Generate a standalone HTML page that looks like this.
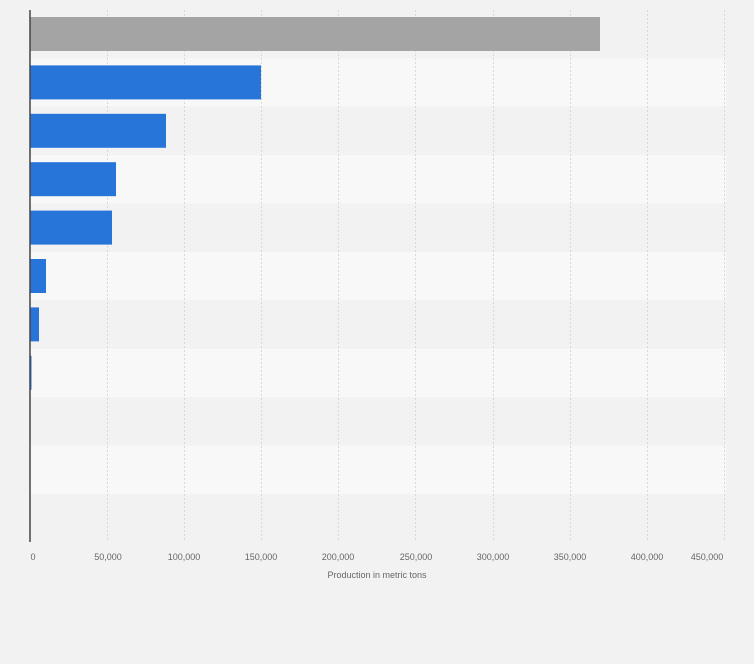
<!DOCTYPE html>
<html><head><style>
body{margin:0;background:#f2f2f2;width:754px;height:659px;overflow:hidden;font-family:"Liberation Sans",sans-serif;}
</style></head><body>
<svg width="754" height="659" xmlns="http://www.w3.org/2000/svg">
<rect width="754" height="659" fill="#f2f2f2"/>
<g>
<rect x="30" y="10" width="696" height="48.4" fill="#f2f2f2"/>
<rect x="30" y="58.4" width="696" height="48.4" fill="#f8f8f8"/>
<rect x="30" y="106.8" width="696" height="48.4" fill="#f2f2f2"/>
<rect x="30" y="155.2" width="696" height="48.4" fill="#f8f8f8"/>
<rect x="30" y="203.6" width="696" height="48.4" fill="#f2f2f2"/>
<rect x="30" y="252" width="696" height="48.4" fill="#f8f8f8"/>
<rect x="30" y="300.4" width="696" height="48.4" fill="#f2f2f2"/>
<rect x="30" y="348.8" width="696" height="48.4" fill="#f8f8f8"/>
<rect x="30" y="397.2" width="696" height="48.4" fill="#f2f2f2"/>
<rect x="30" y="445.6" width="696" height="48.4" fill="#f8f8f8"/>
<rect x="30" y="494" width="696" height="48" fill="#f2f2f2"/>
</g>
<g stroke="#d8d8d8" stroke-width="1" stroke-dasharray="2,2">
<line x1="107.5" y1="10" x2="107.5" y2="542"/>
<line x1="184.5" y1="10" x2="184.5" y2="542"/>
<line x1="261.5" y1="10" x2="261.5" y2="542"/>
<line x1="338.5" y1="10" x2="338.5" y2="542"/>
<line x1="415.5" y1="10" x2="415.5" y2="542"/>
<line x1="493.5" y1="10" x2="493.5" y2="542"/>
<line x1="570.5" y1="10" x2="570.5" y2="542"/>
<line x1="647.5" y1="10" x2="647.5" y2="542"/>
<line x1="724.5" y1="10" x2="724.5" y2="542"/>
</g>
<rect x="30" y="17" width="570" height="34" fill="#a4a4a4"/>
<g fill="#2775d9">
<rect x="30" y="65.4" width="231" height="34"/>
<rect x="30" y="113.8" width="136" height="34"/>
<rect x="30" y="162.2" width="86" height="34"/>
<rect x="30" y="210.6" width="82" height="34"/>
<rect x="30" y="259" width="16" height="34"/>
<rect x="30" y="307.4" width="9" height="34"/>
<rect x="30" y="355.8" width="1.5" height="34"/>
</g>
<line x1="30" y1="10" x2="30" y2="542" stroke="#444" stroke-width="1.5"/>
<g font-size="9" fill="#666" text-anchor="middle">
<text x="33" y="560">0</text>
<text x="108" y="560">50,000</text>
<text x="184" y="560">100,000</text>
<text x="261" y="560">150,000</text>
<text x="338" y="560">200,000</text>
<text x="416" y="560">250,000</text>
<text x="493" y="560">300,000</text>
<text x="570" y="560">350,000</text>
<text x="647" y="560">400,000</text>
<text x="707" y="560">450,000</text>
<text x="377" y="578">Production in metric tons</text>
</g>
</svg>
</body></html>
